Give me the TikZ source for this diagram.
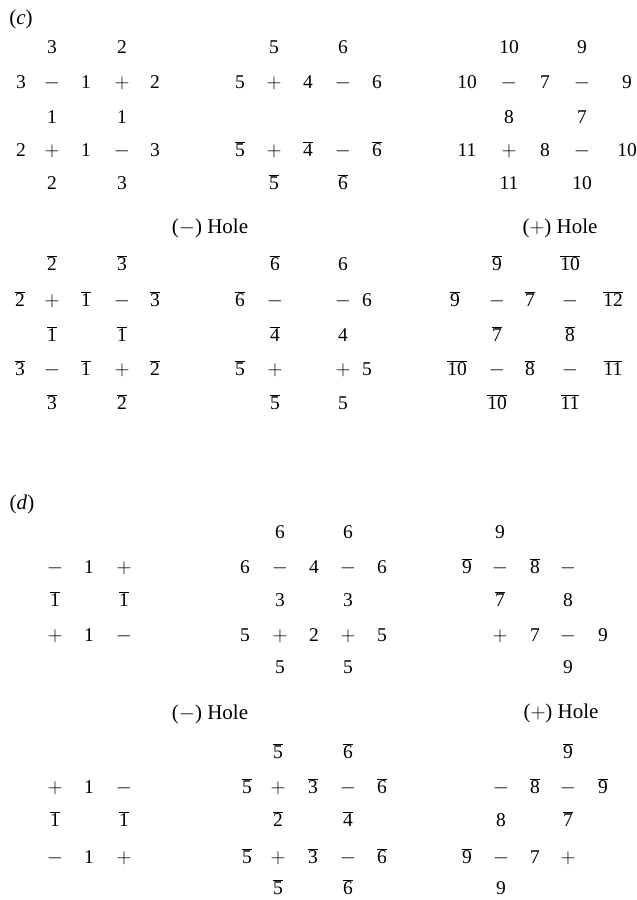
\documentclass[tikz,border=0pt]{standalone}
\usepackage{fontspec}
\setmainfont{Liberation Serif}
\newcommand\ob[1]{$\overline{\mbox{#1}}$}
\newcommand\mi{$-$}
\newcommand\pl{$+$}
\newcommand\symrow[2]{\foreach \px/\sy in {#2} {\node[sym] (s-\px-#1) at (\px,#1) {\sy};}}
\tikzset{
  sym/.style={anchor=base,inner sep=0pt,yshift=-6.5pt,font=\fontsize{19.5}{22}\selectfont},
  holelabel/.style={sym,font=\fontsize{21}{24}\selectfont}
}
\begin{document}
\begin{tikzpicture}[x=1pt,y=-1pt]
  \useasboundingbox (0,0) rectangle (637,900);
  % (c)
  \node[holelabel] (lab-c) at (21,18) {(\textit{c})};
  \symrow{47}{52/3, 122/2, 274/5, 343/6, 509/10, 582/9}
  \symrow{82}{21/3, 52/\mi, 86/1, 122/\pl, 155/2, 240/5, 274/\pl, 308/4, 343/\mi, 377/6,
    467/10, 509/\mi, 545/7, 582/\mi, 627/9}
  \symrow{117}{52/1, 122/1, 509/8, 582/7}
  \symrow{150}{21/2, 52/\pl, 86/1, 122/\mi, 155/3, 240/\ob{5}, 274/\pl, 308/\ob{4}, 343/\mi, 377/\ob{6},
    467/11, 509/\pl, 545/8, 582/\mi, 627/10}
  \symrow{183}{52/2, 122/3, 274/\ob{5}, 343/\ob{6}, 509/11, 582/10}
  \node[holelabel] (minus-c) at (210,227) {(\mi) Hole};
  \node[holelabel] (plus-c) at (560,227) {(\pl) Hole};
  \symrow{264}{52/\ob{2}, 122/\ob{3}, 275/\ob{6}, 343/6, 497/\ob{9}, 570/\ob{10}}
  \symrow{300}{20/\ob{2}, 52/\pl, 86/\ob{1}, 122/\mi, 155/\ob{3}, 240/\ob{6}, 275/\mi, 343/\mi, 367/6,
    455/\ob{9}, 497/\mi, 530/\ob{7}, 570/\mi, 613/\ob{12}}
  \symrow{335}{52/\ob{1}, 122/\ob{1}, 275/\ob{4}, 343/4, 497/\ob{7}, 570/\ob{8}}
  \symrow{369}{20/\ob{3}, 52/\mi, 86/\ob{1}, 122/\pl, 155/\ob{2}, 240/\ob{5}, 275/\pl, 343/\pl, 367/5,
    457/\ob{10}, 497/\mi, 530/\ob{8}, 570/\mi, 613/\ob{11}}
  \symrow{403}{52/\ob{3}, 122/\ob{2}, 275/\ob{5}, 343/5, 497/\ob{10}, 570/\ob{11}}
  % (d)
  \node[holelabel] (lab-d) at (22,503) {(\textit{d})};
  \symrow{532}{280/6, 348/6, 500/9}
  \symrow{567}{55/\mi, 89/1, 124/\pl, 245/6, 280/\mi, 314/4, 348/\mi, 382/6,
    467/\ob{9}, 500/\mi, 535/\ob{8}, 568/\mi}
  \symrow{600}{55/\ob{1}, 124/\ob{1}, 280/3, 348/3, 500/\ob{7}, 568/8}
  \symrow{635}{55/\pl, 89/1, 124/\mi, 245/5, 280/\pl, 314/2, 348/\pl, 382/5,
    500/\pl, 535/7, 568/\mi, 603/9}
  \symrow{667}{280/5, 348/5, 568/9}
  \node[holelabel] (minus-d) at (210,713) {(\mi) Hole};
  \node[holelabel] (plus-d) at (561,712) {(\pl) Hole};
  \symrow{752}{278/\ob{5}, 348/\ob{6}, 568/\ob{9}}
  \symrow{787}{55/\pl, 89/1, 124/\mi, 247/\ob{5}, 278/\pl, 313/\ob{3}, 348/\mi, 382/\ob{6},
    501/\mi, 535/\ob{8}, 568/\mi, 603/\ob{9}}
  \symrow{820}{55/\ob{1}, 124/\ob{1}, 278/\ob{2}, 348/\ob{4}, 501/8, 568/\ob{7}}
  \symrow{857}{55/\mi, 89/1, 124/\pl, 247/\ob{5}, 278/\pl, 313/\ob{3}, 348/\mi, 382/\ob{6},
    467/\ob{9}, 501/\mi, 535/7, 568/\pl}
  \symrow{888}{278/\ob{5}, 348/\ob{6}, 501/9}
\end{tikzpicture}
\end{document}
